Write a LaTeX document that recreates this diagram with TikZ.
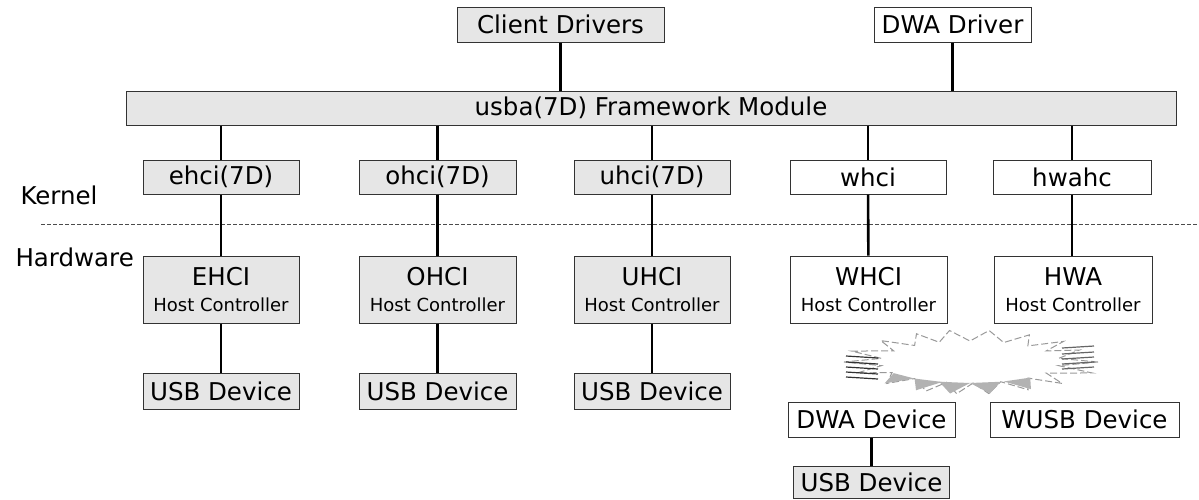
\documentclass[tikz,border=0pt]{standalone}
\usepackage{fontspec}
\setmainfont{DejaVu Sans}
\usepackage{tikz}

\definecolor{boxgray}{HTML}{E6E6E6}
\definecolor{edgegray}{HTML}{333333}
\newcommand{\lblfont}{\fontsize{24.5}{28}\selectfont}
\newcommand{\subfont}{\fontsize{18}{22}\selectfont}

\begin{document}
\begin{tikzpicture}[x=1pt,y=-1pt,
  box/.style={draw=edgegray, line width=1pt, fill=white, inner sep=0pt, minimum height=35pt, font=\lblfont},
  graybox/.style={box, fill=boxgray},
  hcbox/.style={minimum height=67pt, align=center},
  link/.style={line width=2.6pt, black}]

\useasboundingbox (0,0) rectangle (1199,499);

\draw[dashed, black!70, line width=0.8pt, dash pattern=on 4pt off 2pt] (41,224)--(1199,224);

\node[anchor=base west, font=\lblfont] (kern) at (17,204) {Kernel};
\node[anchor=base west, font=\lblfont] (hard) at (12,266) {Hardware};

\node[graybox, minimum width=207pt] (cdrv) at (560.5,24.5) {Client Drivers};
\node[box, minimum width=157pt] (dwadrv) at (952.5,24.5) {DWA Driver};

\node[graybox, minimum width=1050pt, minimum height=34pt] (usba) at (651,108) {usba(7D) Framework Module};

\node[graybox, minimum width=156pt, minimum height=34pt] (ehci) at (221,177) {ehci(7D)};
\node[graybox, minimum width=157pt, minimum height=34pt] (ohci) at (437.5,177) {ohci(7D)};
\node[graybox, minimum width=156pt, minimum height=34pt] (uhci) at (652,177) {uhci(7D)};
\node[box, minimum width=156pt, minimum height=34pt] (whci) at (868,177) {whci};
\node[box, minimum width=158pt, minimum height=34pt] (hwahc) at (1072,177) {hwahc};

\node[graybox, hcbox, minimum width=156pt] (ehcihost) at (221,289.5) {EHCI\\[-2pt]{\subfont Host Controller}};
\node[graybox, hcbox, minimum width=157pt] (ohcihost) at (437.5,289.5) {OHCI\\[-2pt]{\subfont Host Controller}};
\node[graybox, hcbox, minimum width=156pt] (uhcihost) at (652,289.5) {UHCI\\[-2pt]{\subfont Host Controller}};
\node[box, hcbox, minimum width=157pt] (whcihost) at (868.5,289.5) {WHCI\\[-2pt]{\subfont Host Controller}};
\node[box, hcbox, minimum width=158pt] (hwahost) at (1073,289.5) {HWA\\[-2pt]{\subfont Host Controller}};

\node[graybox, minimum width=156pt, minimum height=36pt] (ehcidev) at (221,391) {USB Device};
\node[graybox, minimum width=157pt, minimum height=36pt] (ohcidev) at (437.5,391) {USB Device};
\node[graybox, minimum width=156pt, minimum height=36pt] (uhcidev) at (652,391) {USB Device};

\node[box, minimum width=167pt] (dwadev) at (871.5,419.5) {DWA Device};
\node[box, minimum width=189pt] (wusbdev) at (1084.5,419.5) {WUSB Device};
\node[graybox, minimum width=156pt, minimum height=32pt] (dwausb) at (871.5,482) {USB Device};

\draw[link] (cdrv.south) -- (cdrv.south |- usba.north);
\draw[link] (dwadrv.south) -- (dwadrv.south |- usba.north);

\foreach \n in {ehci,ohci,uhci,whci,hwahc}{
	\draw[link] (\n.north |- usba.south) -- (\n.north);
}

\draw[link] (ehci) -- (ehcihost);
\draw[link] (ohci) -- (ohcihost);
\draw[link] (uhci) -- (uhcihost);
\draw[link] (whci) -- (whcihost);
\draw[link] (hwahc.south) -- (hwahc.south |- hwahost.north);

\draw[link] (ehcihost) -- (ehcidev);
\draw[link] (ohcihost) -- (ohcidev);
\draw[link] (uhcihost) -- (uhcidev);
\draw[link] (dwadev) -- (dwausb);

% wireless burst
\begin{scope}[shift={(970,362)}]
\draw[gray!80, line width=1pt, dash pattern=on 7pt off 3pt] (0:128pt and 30pt)
	\foreach \a/\r in {0/128,22/118,40/122,58/112,80/110,100/118,118/114,138/120,160/126,
		180/126,200/120,222/112,245/104,262/96,280/108,300/116,318/124,340/130}{
		-- (\a:\r pt and 32pt) -- (\a+10:90pt and 21pt) } -- cycle;
\foreach \a in {-58,-80,-100,-118,-138}{
	\fill[gray!60] (\a:115pt and 32pt) -- (\a-10:90pt and 21pt) -- (\a+10:90pt and 21pt) -- cycle;
}
\foreach \dy in {-6,0,5,10,15}{
	\draw[black!80, line width=1.2pt] (-124,\dy) -- (-92,\dy+2);
	\draw[black!60, line width=1.2pt] (92,\dy-8) -- (124,\dy-10);
}
\end{scope}

\end{tikzpicture}
\end{document}
